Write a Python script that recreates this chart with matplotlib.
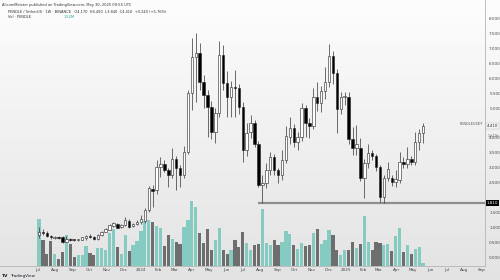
import numpy as np
import pandas as pd
import matplotlib
matplotlib.use('Agg')
import matplotlib.pyplot as plt
import matplotlib.transforms as mtransforms

# weekly candles, PENDLE/USDT
start = pd.Timestamp('2023-07-03')
opens = [0.75, 0.85, 0.82, 0.70, 0.65, 0.67, 0.68, 0.52, 0.60, 0.58,
         0.57, 0.58, 0.64, 0.72, 0.68, 0.60, 0.74, 0.85, 0.92, 1.05,
         1.12, 1.00, 1.07, 1.22, 1.03, 1.10, 1.17, 1.20, 1.58, 2.27,
         2.25, 3.03, 3.12, 2.92, 2.75, 3.29, 2.99, 2.75, 3.53, 5.50,
         6.72, 6.84, 5.88, 5.43, 5.04, 4.20, 4.83, 6.78, 5.83, 5.36,
         5.72, 5.66, 5.04, 3.59, 4.20, 4.49, 3.79, 2.42, 2.47, 2.92,
         3.37, 2.92, 2.75, 3.26, 4.04, 4.32, 3.87, 4.04, 5.01, 4.51,
         4.40, 5.38, 5.16, 5.58, 5.88, 6.74, 6.16, 4.96, 5.36, 5.38,
         3.95, 3.65, 3.65, 2.64, 3.16, 3.50, 3.39, 3.03, 2.02, 2.64,
         2.64, 2.53, 2.60, 3.20, 3.12, 3.28, 3.20, 3.87, 4.17]
highs = [1.02, 0.95, 0.86, 0.74, 0.70, 0.70, 0.72, 0.72, 0.63, 0.61,
         0.61, 0.68, 0.74, 0.76, 0.70, 0.78, 0.88, 0.96, 1.10, 1.18,
         1.15, 1.12, 1.35, 1.28, 1.14, 1.24, 1.40, 1.65, 2.40, 2.42,
         3.25, 3.37, 3.25, 3.00, 3.65, 3.40, 3.10, 3.72, 5.60, 7.34,
         7.53, 7.17, 6.10, 5.60, 5.25, 5.00, 7.26, 7.10, 6.25, 5.90,
         6.27, 5.80, 5.20, 4.49, 4.77, 4.60, 3.90, 2.75, 3.15, 3.53,
         3.45, 3.00, 3.59, 4.40, 4.71, 4.45, 4.20, 5.16, 5.10, 4.65,
         5.66, 5.88, 5.75, 6.39, 7.15, 6.90, 6.30, 5.55, 5.55, 5.55,
         4.37, 4.43, 3.98, 3.30, 3.81, 3.60, 3.45, 3.10, 2.75, 3.20,
         2.75, 2.92, 3.53, 3.35, 3.70, 3.40, 4.20, 4.30, 4.49]
lows = [0.64, 0.74, 0.66, 0.62, 0.61, 0.62, 0.48, 0.50, 0.55, 0.55,
        0.55, 0.56, 0.58, 0.64, 0.58, 0.58, 0.72, 0.83, 0.90, 1.00,
        0.96, 0.97, 1.05, 0.98, 1.00, 1.06, 1.12, 1.15, 1.50, 1.69,
        2.10, 2.69, 2.85, 2.36, 2.65, 2.25, 2.36, 2.65, 3.45, 4.93,
        5.20, 5.60, 5.00, 4.04, 3.95, 3.84, 4.70, 5.60, 4.70, 4.70,
        4.70, 4.80, 3.20, 3.40, 4.00, 3.70, 2.35, 1.80, 2.30, 2.75,
        2.75, 2.47, 2.60, 3.15, 3.80, 3.70, 3.59, 3.90, 4.04, 4.00,
        4.30, 4.90, 4.88, 5.30, 5.70, 5.80, 4.15, 4.80, 5.10, 3.80,
        3.42, 3.42, 2.55, 1.98, 3.00, 3.25, 2.90, 1.86, 1.80, 2.55,
        2.40, 2.36, 2.50, 3.00, 3.00, 3.10, 3.10, 3.60, 3.84]
closes = [0.85, 0.80, 0.70, 0.66, 0.67, 0.65, 0.51, 0.60, 0.58, 0.57,
          0.58, 0.66, 0.70, 0.66, 0.60, 0.74, 0.85, 0.93, 1.07, 1.13,
          0.99, 1.08, 1.24, 1.02, 1.10, 1.18, 1.27, 1.58, 2.30, 2.22,
          3.03, 3.12, 2.92, 2.75, 3.29, 2.99, 2.75, 3.53, 5.50, 6.72,
          6.84, 5.88, 5.43, 5.04, 4.20, 4.83, 6.78, 5.83, 5.36, 5.72,
          5.68, 5.04, 3.59, 4.16, 4.49, 3.79, 2.42, 2.47, 2.92, 3.37,
          2.92, 2.75, 3.26, 4.06, 4.32, 3.87, 4.04, 5.01, 4.51, 4.40,
          5.38, 5.16, 5.58, 5.88, 6.74, 6.16, 4.96, 5.36, 5.40, 3.95,
          3.65, 3.81, 2.64, 3.16, 3.50, 3.39, 3.03, 2.02, 2.64, 2.94,
          2.53, 2.61, 3.20, 3.12, 3.28, 3.20, 3.87, 4.17, 4.41]
# volume, millions
volumes = [23.5, 13.0, 5.8, 12.2, 5.8, 3.2, 7.0, 15.5, 11.0, 4.2,
           5.2, 5.2, 9.8, 6.5, 5.2, 9.0, 9.0, 7.8, 16.2, 18.5,
           9.5, 5.8, 15.2, 7.5, 10.2, 12.2, 17.5, 22.5, 22.8, 22.0,
           19.8, 19.0, 10.0, 15.2, 13.5, 12.0, 10.8, 19.5, 22.8, 32.2,
           29.5, 16.5, 11.5, 18.5, 8.0, 12.8, 19.0, 8.0, 6.0, 8.0,
           13.0, 9.5, 17.0, 11.5, 8.0, 10.2, 10.8, 28.5, 11.5, 10.2,
           12.8, 10.2, 12.0, 17.5, 16.0, 10.2, 8.5, 11.5, 9.8, 10.2,
           16.5, 18.5, 10.8, 12.8, 18.0, 15.5, 7.8, 5.2, 8.0, 7.8,
           12.0, 9.0, 10.8, 24.8, 12.0, 8.0, 12.0, 11.5, 10.2, 10.8,
           7.5, 14.8, 19.0, 7.0, 10.2, 6.0, 8.5, 9.5, 1.5]
support = 1.81
last_price = closes[-1]
price_ticks = np.arange(0, 8.01, 0.5)

n = len(closes)
idx = np.arange(n)
o = np.array(opens); c = np.array(closes)
up = c >= o

fig = plt.figure(figsize=(5, 2.8), dpi=100)

# background gradient
bg = fig.add_axes([0, 0, 1, 1], zorder=-5)
grad = np.linspace(0, 1, 256).reshape(-1, 1)
bg.imshow(grad, aspect='auto', cmap=matplotlib.colors.LinearSegmentedColormap.from_list(
    'g', ['#fdfdfd', '#e3e3e3']), extent=[0, 1, 0, 1])
bg.axis('off')

rect = [0, 14.5 / 280, 485 / 500, 265.5 / 280]
axv = fig.add_axes(rect, zorder=1)
ax = fig.add_axes(rect, zorder=2, sharex=axv)
ax.patch.set_visible(False)
axv.patch.set_visible(False)

# volume
vcol = np.where(up, '#86cbc2', '#6e6e6e')
axv.bar(idx, volumes, width=0.82, color=vcol, linewidth=0)
axv.set_ylim(0, 132.75)
axv.axis('off')

# candles
ax.vlines(idx, lows, highs, color='#333333', linewidth=0.5, zorder=3)
ax.bar(idx, np.maximum(np.abs(c - o), 0.02), bottom=np.minimum(o, c), width=0.62,
       color=np.where(up, 'white', 'black'), edgecolor='#222222', linewidth=0.4, zorder=4)

# support line
ax.hlines(support, 56, 200, color='#8f8f8f', linewidth=1.6, zorder=2)

ax.set_xlim(-9.95, 113.8)
ax.set_ylim(-0.285, 8.627)

# month ticks
months = pd.date_range('2023-07-01', '2025-09-01', freq='MS')
mpos = (months - start).days / 7.0
mlab = [str(m.year) if m.month == 1 else m.strftime('%b') for m in months]
ax.set_xticks(mpos)
ax.set_xticklabels(mlab)
ax.yaxis.tick_right()
# the two price tags cover the nearest scale labels
shown = [v for v in price_ticks if abs(v - last_price) > 0.3 and abs(v - support) > 0.3]
ax.set_yticks(shown)
ax.set_yticklabels(['%.3f' % v for v in shown])
ax.tick_params(axis='both', length=0, labelsize=3, colors='#444444')
ax.tick_params(axis='x', pad=1.5)
ax.tick_params(axis='y', pad=3)
for s in ['left', 'top']:
    ax.spines[s].set_visible(False)
for s in ['right', 'bottom']:
    ax.spines[s].set_color('#b5b5b5')
    ax.spines[s].set_linewidth(0.6)

# price tags on the right axis
tr = mtransforms.blended_transform_factory(ax.transAxes, ax.transData)
ax.text(1.004, support, '%.3f' % support, transform=tr, fontsize=3, color='white',
        va='center', ha='left', zorder=6,
        bbox=dict(boxstyle='square,pad=0.25', fc='black', ec='none'))
ax.text(1.004, last_price, '%.3f' % last_price, transform=tr, fontsize=3, color='#333333',
        va='center', ha='left', zorder=6,
        bbox=dict(boxstyle='square,pad=0.25', fc='#f4f4f4', ec='#bbbbbb', lw=0.3))
ax.text(1.006, last_price - 0.34, '1d 10h', transform=tr, fontsize=2.2, color='#555555',
        va='center', ha='left', zorder=6)
ax.text(0.997, last_price + 0.05, 'PENDLEUSDT', transform=tr, fontsize=2.5, color='#555555',
        va='center', ha='right', zorder=6)

# header
fig.text(0.004, 0.990, 'AlicornMeister published on TradingView.com, May 30, 2025 09:55 UTC',
         fontsize=2.6, color='#333333', va='top')
fig.text(0.016, 0.963,
         'PENDLE / TetherUS · 1W · BINANCE   O4.170  H4.490  L3.840  C4.410  +0.240 (+5.76%)',
         fontsize=2.6, color='#333333', va='top')
fig.text(0.016, 0.948, 'Vol · PENDLE', fontsize=2.6, color='#333333', va='top')
fig.text(0.128, 0.948, '1.52M', fontsize=2.6, color='#26a69a', va='top')

# footer logo
fig.text(0.004, 0.008, 'TV', fontsize=3.2, color='#131722', fontweight='bold', va='bottom')
fig.text(0.020, 0.008, 'TradingView', fontsize=3, color='#131722', va='bottom')

fig.savefig('out.png', dpi=100)
